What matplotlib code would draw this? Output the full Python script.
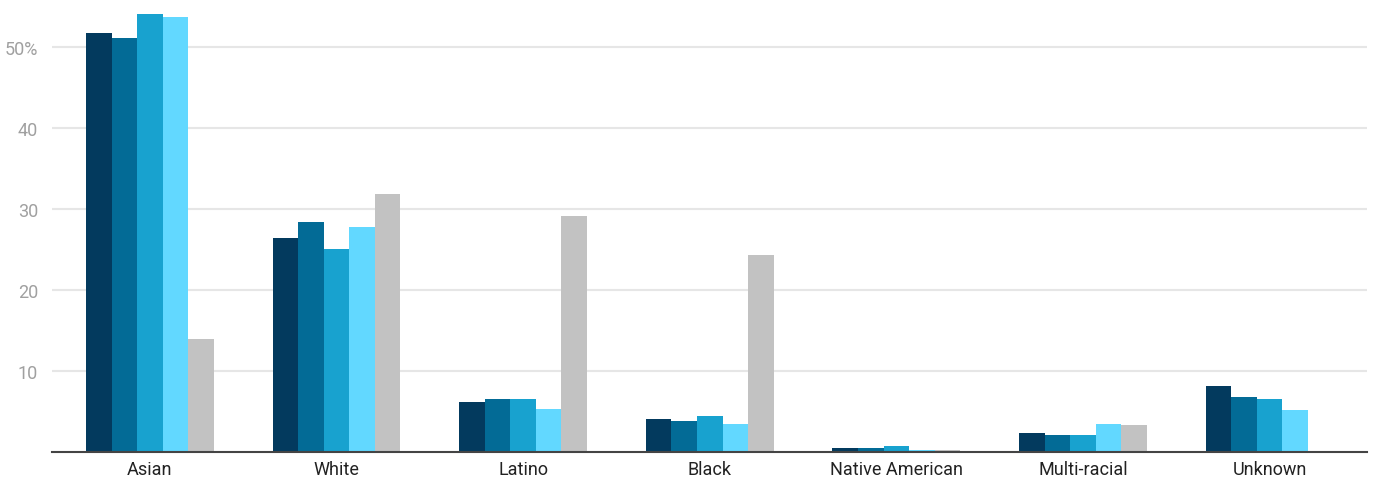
import numpy as np
import matplotlib.pyplot as plt

# === Данные ===
categories = ["Asian", "White", "Latino", "Black", "Native American", "Multi-racial", "Unknown"]
series_1 = [51.7, 26.4, 6.2, 4.1, 0.5, 2.3, 8.2]
series_2 = [51.1, 28.4, 6.6, 3.8, 0.5, 2.1, 6.8]
series_3 = [54.0, 25.0, 6.6, 4.5, 0.7, 2.1, 6.5]
series_4 = [53.7, 27.8, 5.3, 3.5, 0.2, 3.5, 5.2]
series_5 = [13.9, 31.8, 29.1, 24.3, 0.2, 3.4, 0.0]
tick_values = [10, 20, 30, 40, 50]
tick_labels = ["10", "20", "30", "40", "50%"]

series = [series_1, series_2, series_3, series_4, series_5]
colors = ["#033a5e", "#036b96", "#18a2cf", "#62d8ff", "#c2c2c2"]

plt.rcParams['font.family'] = ['Roboto', 'DejaVu Sans']

fig = plt.figure(figsize=(13.76, 4.81), dpi=100)
ax = fig.add_axes([0.0378, 0.058, 0.956, 0.942])

x = np.arange(len(categories))
width = 0.137
for i, (vals, col) in enumerate(zip(series, colors)):
    ax.bar(x + (i - 2) * width, vals, width, color=col, zorder=3)

ax.set_xlim(-0.525, 6.525)
ax.set_ylim(0, 55.9)
ax.set_yticks(tick_values)
ax.set_yticklabels(tick_labels, color="#a0a0a0", fontsize=13)
ax.set_xticks(x)
ax.set_xticklabels(categories, color="#222222", fontsize=13)
ax.tick_params(axis="both", length=0)
ax.tick_params(axis="x", pad=6)
ax.tick_params(axis="y", pad=10)

ax.grid(axis="y", color="#e6e6e6", linewidth=1.5, zorder=0)
for side in ["top", "right", "left"]:
    ax.spines[side].set_visible(False)
ax.spines["bottom"].set_color("#444444")
ax.spines["bottom"].set_linewidth(1.5)
ax.spines["bottom"].set_zorder(4)

plt.savefig("out.png", dpi=100)
plt.close()
